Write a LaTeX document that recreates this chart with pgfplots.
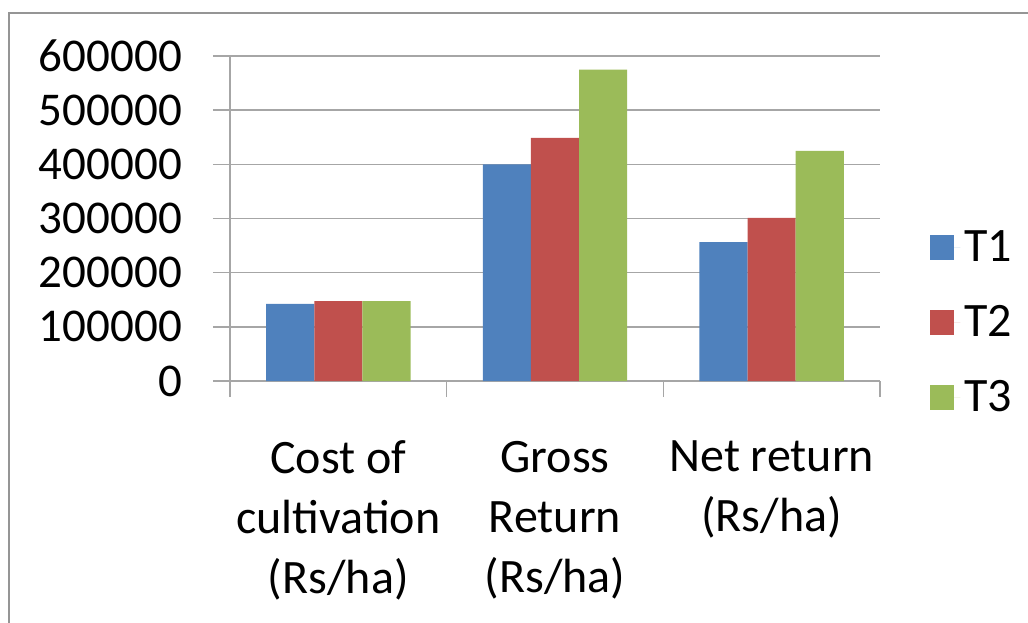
\documentclass[border=0pt]{standalone}
\usepackage{pgfplots}
\pgfplotsset{compat=1.18}
\usepackage{fontspec}
\setmainfont{Carlito}
\definecolor{cT1}{HTML}{4F81BD}
\definecolor{cT2}{HTML}{C0504D}
\definecolor{cT3}{HTML}{9BBB59}
\definecolor{gridc}{HTML}{A6A6A6}
\begin{document}
\begin{tikzpicture}
\useasboundingbox (-115pt,-120.5pt) rectangle (399pt,190.5pt);
\begin{axis}[
    scale only axis,
    width=325pt, height=162.5pt,
    xmin=-0.5, xmax=2.5,
    ymin=0, ymax=600000,
    ybar=0pt, bar width=0.2222,
    axis lines*=left,
    axis line style={gridc, line width=0.8pt},
    xtick={0,1,2},
    xticklabels={{Cost of\\cultivation\\(Rs/ha)},{Gross\\Return\\(Rs/ha)},{Net return\\(Rs/ha)}},
    major x tick style={draw=none},
    minor xtick={-0.5,0.5,1.5,2.5},
    minor tick length=8pt,
    minor tick style={gridc, line width=0.8pt},
    x tick label style={align=center, font=\fontsize{24}{30}\selectfont, yshift=-18pt},
    scaled y ticks=false,
    ytick={0,100000,...,600000},
    yticklabels={0,100000,200000,300000,400000,500000,600000},
    y tick label style={font=\fontsize{23.5}{28}\selectfont, xshift=-12pt},
    major tick length=8.5pt,
    tick align=outside,
    major y tick style={gridc, line width=0.8pt},
    ymajorgrids,
    grid style={gridc, line width=0.8pt},
    legend style={draw=none, at={(1,0.18)}, anchor=west, xshift=22pt,
        font=\fontsize{24}{28}\selectfont, row sep=16.5pt},
    legend cell align=left,
    legend image code/.code={\fill[#1] (0pt,-6.25pt) rectangle (12pt,6.25pt);
        \path (0pt,0pt) -- (15pt,0pt);},
]
\addplot[fill=cT1, draw=none] coordinates {(0,142500) (1,400000) (2,256500)};
\addplot[fill=cT2, draw=none] coordinates {(0,147500) (1,449000) (2,301000)};
\addplot[fill=cT3, draw=none] coordinates {(0,147500) (1,575000) (2,425000)};
\legend{T1,T2,T3}
\end{axis}
\draw[gridc!90!black, line width=1pt] (-110.5pt,-125pt) -- (-110.5pt,184pt) -- (405pt,184pt);
\end{tikzpicture}
\end{document}
